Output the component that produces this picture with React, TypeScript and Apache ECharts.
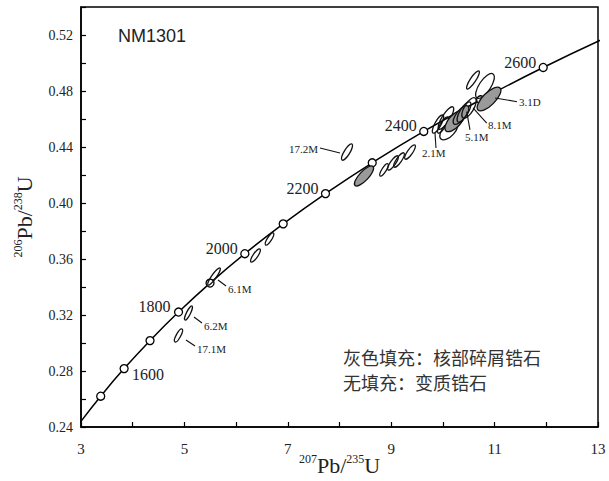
import React, { useEffect, useRef } from "react";
import * as echarts from "echarts";

// Concordia curve (ages in Ma)
const AGES = [1400, 1500, 1600, 1700, 1800, 1900, 2000, 2100, 2200, 2300, 2400, 2500, 2600, 2700];
const CURVE_X = [2.97, 3.381, 3.834, 4.335, 4.887, 5.496, 6.169, 6.911, 7.729, 8.633, 9.63, 10.73, 11.94, 13.28];
const CURVE_Y = [0.2426, 0.262, 0.2817, 0.3017, 0.3221, 0.3428, 0.3638, 0.3851, 0.4067, 0.4287, 0.4511, 0.4737, 0.4968, 0.5202];
const MARKED_AGES = [1500, 1600, 1700, 1800, 1900, 2000, 2100, 2200, 2300, 2400, 2500, 2600];
const LABELED_AGES = [1600, 1800, 2000, 2200, 2400, 2600];

// Error ellipses: centre (x, y), half major axis (dx, dy), minor/major ratio, gray fill flag
const ELL_X = [4.886, 5.079, 5.573, 6.375, 6.646, 8.145, 8.474, 8.861, 9.035, 9.151, 9.364, 9.905, 10.002, 10.06, 10.118, 10.234, 10.35, 10.408, 10.505, 10.582, 10.814, 10.892];
const ELL_Y = [0.3054, 0.3214, 0.3475, 0.3625, 0.3743, 0.4364, 0.4193, 0.4236, 0.4286, 0.4307, 0.4364, 0.4564, 0.4557, 0.4607, 0.4521, 0.4586, 0.4629, 0.465, 0.4679, 0.4879, 0.4836, 0.4743];
const ELL_DX = [0.068, 0.068, 0.116, 0.087, 0.077, 0.097, 0.174, 0.077, 0.097, 0.097, 0.097, 0.097, 0.097, 0.135, 0.155, 0.174, 0.135, 0.116, 0.116, 0.116, 0.155, 0.213];
const ELL_DY = [0.0046, 0.005, 0.0061, 0.0046, 0.0043, 0.0057, 0.0068, 0.0043, 0.005, 0.005, 0.005, 0.0064, 0.0057, 0.0079, 0.0064, 0.0071, 0.0064, 0.0071, 0.0071, 0.0064, 0.0086, 0.0079];
const ELL_RATIO = [0.3, 0.25, 0.22, 0.3, 0.3, 0.3, 0.35, 0.3, 0.3, 0.3, 0.3, 0.3, 0.3, 0.3, 0.5, 0.45, 0.4, 0.35, 0.4, 0.25, 0.4, 0.4];
const ELL_GRAY = [0, 0, 0, 0, 0, 0, 1, 0, 0, 0, 0, 0, 0, 0, 0, 1, 1, 0, 0, 0, 0, 1];

// Spot labels and the ellipse each one points at
const SPOT_LABELS = ["17.1M", "6.2M", "6.1M", "17.2M", "2.1M", "5.1M", "8.1M", "3.1D"];
const SPOT_INDEX = [0, 1, 2, 5, 11, 16, 18, 21];

const X_TICKS = [3, 5, 7, 9, 11, 13];
const Y_TICKS = [0.24, 0.28, 0.32, 0.36, 0.4, 0.44, 0.48, 0.52];

const SAMPLE_NAME = "NM1301";
const LEGEND_LINES = ["灰色填充：核部碎屑锆石", "无填充：变质锆石"];

// --- styling (pixel offsets, not data) ---
const AGE_LABEL_STYLE: Record<number, { ox: number; oy: number; align: string }> = {
  1600: { ox: 8, oy: 6, align: "left" },
  1800: { ox: -8, oy: -6, align: "right" },
  2000: { ox: -7, oy: -5, align: "right" },
  2200: { ox: -7, oy: -5, align: "right" },
  2400: { ox: -7, oy: -6, align: "right" },
  2600: { ox: -7, oy: -5, align: "right" },
};
const SPOT_STYLE: Record<string, { from: number[]; to: number[]; text: number[]; align: string }> = {
  "17.1M": { from: [7.5, 4.5], to: [16.5, 10.5], text: [18.5, 13.5], align: "left" },
  "6.2M": { from: [5.5, 4], to: [13.5, 10], text: [15.5, 13], align: "left" },
  "6.1M": { from: [4, 3.5], to: [12, 9.5], text: [14, 12.5], align: "left" },
  "17.2M": { from: [-7, 1], to: [-27, -4], text: [-29, -3], align: "right" },
  "2.1M": { from: [-3, 9], to: [-2, 24], text: [-16, 29], align: "left" },
  "5.1M": { from: [5.7, -3.3], to: [9, 15], text: [4, 22], align: "left" },
  "8.1M": { from: [4, 0], to: [17.7, 15.3], text: [19, 17], align: "left" },
  "3.1D": { from: [6, -1], to: [28, 2.7], text: [30, 3.5], align: "left" },
};

const SERIF = "'Liberation Serif', 'Times New Roman', serif";
const CJK = "'Noto Sans CJK SC', sans-serif";

export default function App() {
  const ref = useRef<HTMLDivElement>(null);

  useEffect(() => {
    if (!ref.current) return;
    const chart = echarts.init(ref.current, undefined, { renderer: "svg" });

    const curveData = CURVE_X.map((x, i) => [x, CURVE_Y[i]]);
    const markerData = MARKED_AGES.map((a) => {
      const i = AGES.indexOf(a);
      return [CURVE_X[i], CURVE_Y[i], a];
    });
    const ageLabelData = LABELED_AGES.map((a) => {
      const i = AGES.indexOf(a);
      return [CURVE_X[i], CURVE_Y[i], a];
    });
    const ellData = ELL_X.map((x, i) => [x, ELL_Y[i], ELL_DX[i], ELL_DY[i], ELL_RATIO[i], ELL_GRAY[i]]);
    const spotData = SPOT_INDEX.map((k, i) => [ELL_X[k], ELL_Y[k], i]);

    const axisNameRich = {
      m: { fontSize: 22, lineHeight: 24, fontFamily: SERIF, color: "#222" },
      sup: { fontSize: 12, lineHeight: 24, fontFamily: SERIF, color: "#222", verticalAlign: "top" as const },
    };

    const option: any = {
      animation: false,
      backgroundColor: "#fff",
      grid: {
        left: 81,
        right: 11,
        top: 7,
        bottom: 54,
        show: true,
        borderColor: "#000",
        borderWidth: 1.5,
        containLabel: false,
        outerBoundsMode: "none",
      },
      xAxis: {
        type: "value",
        min: X_TICKS[0],
        max: X_TICKS[X_TICKS.length - 1],
        interval: 2,
        axisLine: { show: true, onZero: false, lineStyle: { color: "#000", width: 1.5 } },
        axisTick: { show: true, inside: true, length: 5, lineStyle: { color: "#000", width: 1.2 } },
        minorTick: { show: true, splitNumber: 2, length: 5, lineStyle: { color: "#000", width: 1.2 } },
        splitLine: { show: false },
        axisLabel: {
          margin: 14,
          color: "#222",
          fontSize: 15,
          fontFamily: SERIF,
          formatter: (v: number) => String(Math.round(v)),
        },
        name: "{sup|207}{m|Pb/}{sup|235}{m|U}",
        nameLocation: "middle",
        nameGap: 26,
        nameMoveOverlap: false,
        nameTextStyle: { rich: axisNameRich },
      },
      yAxis: {
        type: "value",
        min: Y_TICKS[0],
        max: 0.54,
        interval: 0.04,
        axisLine: { show: true, onZero: false, lineStyle: { color: "#000", width: 1.5 } },
        axisTick: { show: true, inside: true, length: 5, lineStyle: { color: "#000", width: 1.2 } },
        minorTick: { show: true, splitNumber: 2, length: 5, lineStyle: { color: "#000", width: 1.2 } },
        splitLine: { show: false },
        axisLabel: {
          margin: 8,
          color: "#222",
          fontSize: 14,
          fontFamily: SERIF,
          showMaxLabel: false,
          formatter: (v: number) => (Y_TICKS.some((t) => Math.abs(t - v) < 1e-6) ? v.toFixed(2) : ""),
        },
        name: "{sup|206}{m|Pb/}{sup|238}{m|U}",
        nameLocation: "middle",
        nameGap: 45,
        nameMoveOverlap: false,
        nameTextStyle: { rich: axisNameRich },
      },
      graphic: [
        {
          type: "text",
          left: 118,
          top: 27,
          style: { text: SAMPLE_NAME, fontSize: 18, fontFamily: "'Liberation Sans', Arial, sans-serif", fill: "#222" },
        },
        {
          type: "text",
          left: 343,
          top: 348,
          style: { text: LEGEND_LINES[0], fontSize: 18, fontFamily: CJK, fill: "#333" },
        },
        {
          type: "text",
          left: 343,
          top: 373,
          style: { text: LEGEND_LINES[1], fontSize: 18, fontFamily: CJK, fill: "#333" },
        },
      ],
      series: [
        {
          type: "line",
          data: curveData,
          smooth: true,
          showSymbol: false,
          clip: true,
          lineStyle: { color: "#000", width: 1.5 },
          z: 2,
          silent: true,
        },
        {
          type: "scatter",
          data: markerData,
          symbol: "circle",
          symbolSize: 8,
          itemStyle: { color: "#fff", borderColor: "#000", borderWidth: 1.3, opacity: 1 },
          z: 3,
          silent: true,
        },
        {
          type: "custom",
          data: ellData,
          encode: { x: 0, y: 1 },
          clip: true,
          z: 4,
          renderItem: (params: any, api: any) => {
            const cx = api.value(0);
            const cy = api.value(1);
            const dx = api.value(2);
            const dy = api.value(3);
            const r = api.value(4);
            const g = api.value(5);
            const p0 = api.coord([cx, cy]);
            const p1 = api.coord([cx + dx, cy + dy]);
            const vx = p1[0] - p0[0];
            const vy = p1[1] - p0[1];
            const rx = Math.hypot(vx, vy);
            return {
              type: "ellipse",
              x: p0[0],
              y: p0[1],
              rotation: -Math.atan2(vy, vx),
              shape: { cx: 0, cy: 0, rx, ry: rx * r },
              style: { fill: g ? "#9a9a9a" : "none", stroke: "#111", lineWidth: 1.3 },
            };
          },
        },
        {
          type: "custom",
          data: ageLabelData,
          encode: { x: 0, y: 1 },
          z: 5,
          renderItem: (params: any, api: any) => {
            const p = api.coord([api.value(0), api.value(1)]);
            const age = api.value(2);
            const s = AGE_LABEL_STYLE[age];
            return {
              type: "text",
              x: p[0] + s.ox,
              y: p[1] + s.oy,
              style: {
                text: String(age),
                fill: "#222",
                fontSize: 16,
                fontFamily: SERIF,
                align: s.align,
                verticalAlign: "middle",
              },
            };
          },
        },
        {
          type: "custom",
          data: spotData,
          encode: { x: 0, y: 1 },
          z: 5,
          renderItem: (params: any, api: any) => {
            const p = api.coord([api.value(0), api.value(1)]);
            const name = SPOT_LABELS[api.value(2)];
            const s = SPOT_STYLE[name];
            return {
              type: "group",
              children: [
                {
                  type: "line",
                  shape: {
                    x1: p[0] + s.from[0],
                    y1: p[1] + s.from[1],
                    x2: p[0] + s.to[0],
                    y2: p[1] + s.to[1],
                  },
                  style: { stroke: "#111", lineWidth: 1.1 },
                },
                {
                  type: "text",
                  x: p[0] + s.text[0],
                  y: p[1] + s.text[1],
                  style: {
                    text: name,
                    fill: "#222",
                    fontSize: 11,
                    fontFamily: SERIF,
                    align: s.align,
                    verticalAlign: "middle",
                  },
                },
              ],
            };
          },
        },
      ],
    };

    chart.setOption(option);
    return () => chart.dispose();
  }, []);

  return (
    <div
      ref={ref}
      style={{ position: "fixed", left: 0, top: 0, width: 609, height: 481, background: "#fff" }}
    />
  );
}
